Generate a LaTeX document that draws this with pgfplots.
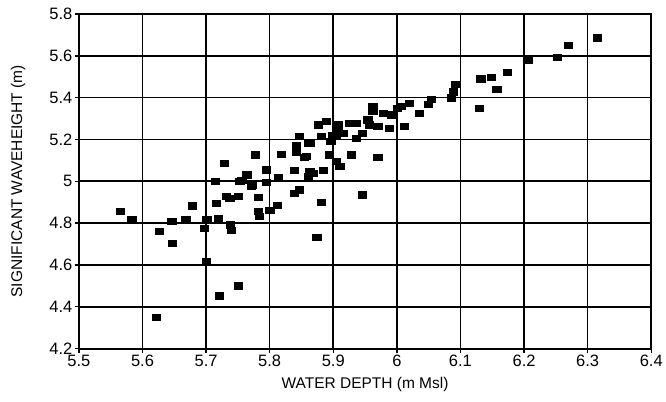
\documentclass[border=0pt]{standalone}
\usepackage{fontspec}
\setmainfont{Liberation Sans}
\usepackage{pgfplots}
\pgfplotsset{compat=1.18}
\begin{document}
\begin{tikzpicture}
\begin{axis}[name=ax,
  scale only axis, width=573pt, height=335pt,
  xmin=5.5, xmax=6.4, ymin=4.2, ymax=5.8,
  xtick={5.5,5.6,...,6.41}, ytick={4.2,4.4,...,5.81},
  /pgf/number format/assume math mode=true,
  /pgf/number format/fixed, /pgf/number format/precision=1,
  tick label style={font=\fontsize{16.5}{18}\selectfont},
  x tick label style={yshift=1pt},
  y tick label style={xshift=1pt},
  xlabel={WATER DEPTH (m Msl)}, ylabel={SIGNIFICANT WAVEHEIGHT (m)},
  every axis x label/.style={at={(axis description cs:0.5,-0.108)}, anchor=center, font=\fontsize{15.5}{18}\selectfont},
  every axis y label/.style={at={(axis description cs:-0.106,0.5)}, anchor=center, rotate=90, font=\fontsize{15.5}{18}\selectfont},
  grid=major, major grid style={black, line width=1.6pt},
  axis line style={black, line width=1.9pt},
  tick align=outside, tick pos=left, major tick length=4pt,
  tick style={black, line width=1.4pt},
]
\addplot[only marks, mark=square*, mark size=3.3pt, mark options={fill=black, draw=black, xscale=1.25, yscale=0.95}] coordinates {
(5.565,4.856) (5.583,4.816) (5.626,4.76) (5.647,4.705) (5.646,4.81) (5.668,4.816)
(5.678,4.883) (5.622,4.35) (5.70,4.617) (5.721,4.453) (5.751,4.501) (5.697,4.777)
(5.701,4.816) (5.719,4.824) (5.716,4.896) (5.738,4.792) (5.74,4.765) (5.737,4.92)
(5.75,4.928) (5.714,5.0) (5.756,5.004) (5.764,5.031) (5.771,4.979) (5.782,4.925)
(5.782,4.856) (5.784,4.832) (5.8,4.86) (5.812,4.887) (5.795,5.055) (5.795,4.996)
(5.813,5.02) (5.839,5.054) (5.729,5.087) (5.777,5.127) (5.818,5.131) (5.842,5.142)
(5.86,5.183) (5.854,5.116) (5.847,5.214) (5.863,5.047) (5.884,5.053) (5.868,5.039)
(5.86,5.023) (5.894,5.127) (5.905,5.095) (5.91,5.071) (5.928,5.127) (5.97,5.116)
(5.847,4.96) (5.839,4.944) (5.881,4.899) (5.874,4.732) (5.946,4.936) (5.889,5.286)
(5.876,5.27) (5.907,5.27) (5.926,5.278) (5.881,5.214) (5.899,5.222) (5.907,5.238)
(5.896,5.19) (5.936,5.206) (5.946,5.23) (5.962,5.357) (5.962,5.334) (5.954,5.294)
(5.97,5.262) (5.978,5.326) (5.991,5.318) (5.988,5.254) (6.0,5.35) (6.007,5.36)
(6.02,5.373) (6.012,5.262) (6.035,5.326) (6.049,5.37) (6.054,5.393) (6.085,5.40)
(6.088,5.429) (6.092,5.466) (6.13,5.35) (6.132,5.49) (6.148,5.498) (6.157,5.44)
(6.174,5.52) (6.206,5.58) (6.252,5.593) (6.27,5.649) (6.315,5.687) (5.936,5.278)
(5.863,5.183) (5.905,5.214) (5.915,5.23) (5.842,5.174) (5.857,5.119) (5.957,5.27)
(5.773,4.983) (5.753,5.0) (5.732,4.928)
};
\end{axis}
\path ([xshift=-79pt,yshift=-53pt]ax.south west) rectangle ([xshift=14pt,yshift=14pt]ax.north east);
\end{tikzpicture}
\end{document}
